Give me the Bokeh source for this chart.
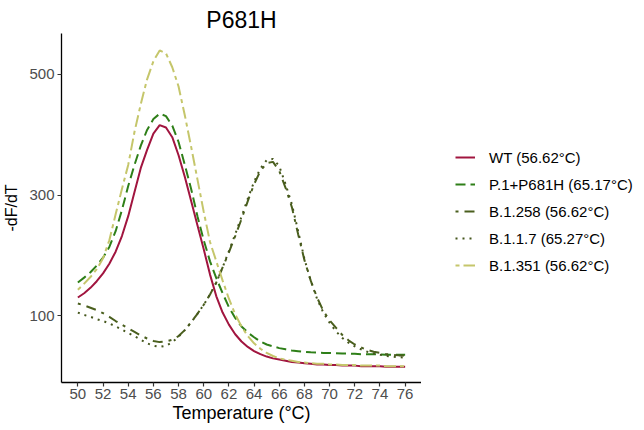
from bokeh.plotting import figure
from bokeh.models import Legend, LegendItem, FixedTicker, Range1d
from bokeh.layouts import row
from bokeh.embed import file_html
from bokeh.resources import INLINE

temperature = [50 + 0.5 * i for i in range(53)]

wt = [130, 137, 146, 157, 170, 186, 206, 232, 265, 305, 345, 375, 402, 416, 412, 396, 366, 330, 290, 250,
      210, 168, 132, 105, 85, 69, 57, 48, 41, 36, 32, 29, 27, 25, 23, 22, 21, 20, 19, 19,
      18, 18, 17, 17, 17, 16, 16, 16, 16, 15, 15, 15, 15]
p1_p681h = [155, 163, 172, 183, 196, 214, 240, 275, 315, 350, 382, 408, 426, 435, 431, 415, 388, 350, 310, 265,
            225, 190, 162, 137, 114, 96, 82, 72, 64, 57, 52, 49, 46, 44, 42, 41, 40, 39, 38.5, 38,
            38, 37.5, 37, 37, 36.5, 36, 36, 36, 35.5, 35, 35, 35, 35]
b1258 = [120, 117, 113, 109, 104, 98, 91, 85, 79, 73, 67, 62, 58, 56, 57, 60, 66, 76, 89, 103,
         118, 135, 155, 180, 205, 232, 260, 290, 318, 340, 353, 355, 340, 312, 280, 235, 192, 158, 130, 108,
         92, 80, 68, 59, 52, 47, 43, 40, 38, 36, 35, 34, 34]
b117 = [105, 101, 98, 94, 91, 87, 82, 77, 71, 66, 60, 54, 50, 48, 50, 56, 65, 76, 89, 103,
        118, 135, 155, 180, 207, 235, 264, 294, 322, 344, 358, 360, 348, 318, 285, 240, 194, 158, 128, 105,
        88, 74, 63, 55, 49, 44, 40, 37, 35, 33, 32, 31, 30]
b1351 = [143, 153, 164, 177, 195, 225, 268, 310, 350, 405, 451, 492, 522, 540, 535, 512, 480, 432, 380, 326,
         272, 222, 190, 158, 128, 102, 82, 66, 54, 45, 38, 33, 29, 27, 25, 23, 22, 21, 20, 20,
         19, 19, 18, 18, 18, 17, 17, 17, 17, 16, 16, 16, 16]

labels = ["WT (56.62°C)", "P.1+P681H (65.17°C)", "B.1.258 (56.62°C)", "B.1.1.7 (65.27°C)", "B.1.351 (56.62°C)"]
x_ticks = list(range(50, 77, 2))
y_ticks = [100, 300, 500]

FONT = "Liberation Sans"
H = 426

p = figure(width=421, height=H, output_backend="svg", toolbar_location=None,
           x_range=Range1d(48.7, 77.3), y_range=Range1d(-11, 568),
           min_border_left=61, min_border_right=0, min_border_top=33, min_border_bottom=44)
p.title.text = "P681H"
p.title.align = "center"
p.title.text_font = FONT
p.title.text_font_size = "23px"
p.title.text_font_style = "normal"
p.title.text_color = "black"
p.title.standoff = 2
p.title.offset = 0

p.outline_line_color = None
p.xgrid.visible = False
p.ygrid.visible = False
p.background_fill_color = "white"
p.border_fill_color = "white"

for ax in (p.xaxis[0], p.yaxis[0]):
    ax.axis_line_color = "black"
    ax.axis_line_width = 1.3
    ax.major_tick_line_color = "#333333"
    ax.major_tick_line_width = 1.2
    ax.major_tick_out = 4
    ax.major_tick_in = 0
    ax.minor_tick_line_color = None
    ax.major_label_text_font = FONT
    ax.major_label_text_font_size = "15px"
    ax.major_label_text_color = "#4D4D4D"
    ax.axis_label_text_font = FONT
    ax.axis_label_text_font_style = "normal"
    ax.axis_label_text_color = "black"

p.xaxis[0].axis_label_text_font_size = "18px"
p.yaxis[0].axis_label_text_font_size = "16px"
p.xaxis[0].ticker = FixedTicker(ticks=x_ticks)
p.yaxis[0].ticker = FixedTicker(ticks=y_ticks)
p.xaxis[0].axis_label = "Temperature (°C)"
p.yaxis[0].axis_label = "-dF/dT"
p.xaxis[0].major_label_standoff = 2
p.xaxis[0].axis_label_standoff = 1
p.yaxis[0].major_label_standoff = 3
p.yaxis[0].axis_label_standoff = 6

series = [
    (wt, "#A1153F", "solid"),
    (p1_p681h, "#2E7F18", "10 5"),
    (b1258, "#4A5F1E", "3 6 10 6"),
    (b117, "#45561C", "2 5"),
    (b1351, "#C5C66B", "4 4 12 4"),
]
for vals, color, dash in series:
    p.line(temperature, vals, line_color=color, line_width=2, line_dash=dash)

# legend panel: a separate axis-less figure whose ranges keep its copies of the lines out of view
lg = figure(width=215, height=H, output_backend="svg", toolbar_location=None,
            x_range=Range1d(0, 1), y_range=Range1d(0, 1),
            x_axis_type=None, y_axis_type=None, min_border=0)
lg.outline_line_color = None
lg.background_fill_color = "white"
lg.border_fill_color = "white"
items = []
for (vals, color, dash), lab in zip(series, labels):
    r = lg.line(temperature, vals, line_color=color, line_width=2, line_dash=dash)
    items.append(LegendItem(label=lab, renderers=[r]))

legend = Legend(items=items, location=(34, 107), orientation="vertical",
                glyph_width=20, glyph_height=20, label_height=20, spacing=7,
                label_standoff=14, padding=0, margin=0,
                label_text_font=FONT, label_text_font_size="15px", label_text_color="black",
                border_line_color=None, background_fill_alpha=0)
lg.add_layout(legend, "center")

layout = row(p, lg, spacing=0)
open("out.html", "w").write(file_html(layout, INLINE))
